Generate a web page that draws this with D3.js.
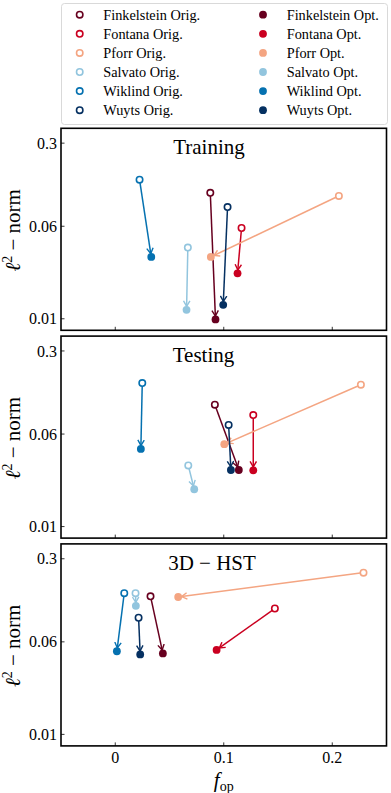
<!DOCTYPE html>
<html>
<head>
<meta charset="utf-8">
<script src="https://cdn.jsdelivr.net/npm/d3@7"></script>
<style>
  body { margin: 0; background: #fff; }
  svg { display: block; font-family: "Liberation Serif", serif; }
</style>
</head>
<body>
<div id="chart"></div>
<script>
// model names and colours (legend order)
const models = ["Finkelstein", "Fontana", "Pforr", "Salvato", "Wiklind", "Wuyts"];
const colors = ["#67001f", "#ca0020", "#f4a582", "#92c5de", "#0571b0", "#053061"];

// Training
const trainFOrig = [0.0876, 0.1164, 0.2061, 0.0669, 0.0224, 0.1035];
const trainL2Orig = [0.1146, 0.058, 0.108, 0.0397, 0.148, 0.087];
const trainFOpt = [0.0924, 0.1127, 0.0881, 0.0657, 0.0332, 0.0995];
const trainL2Opt = [0.00987, 0.0241, 0.0331, 0.0119, 0.0331, 0.0131];

// Testing
const testFOrig = [0.0918, 0.1272, 0.2264, 0.0673, 0.0249, 0.1045];
const testL2Orig = [0.106, 0.0867, 0.156, 0.0327, 0.161, 0.0716];
const testFOpt = [0.1139, 0.1272, 0.1005, 0.0728, 0.0236, 0.1066];
const testL2Opt = [0.0299, 0.0297, 0.0493, 0.0206, 0.045, 0.0299];

// 3D-HST
const hstFOrig = [0.0325, 0.1471, 0.2288, 0.0187, 0.0083, 0.0215];
const hstL2Orig = [0.145, 0.1145, 0.229, 0.154, 0.154, 0.0957];
const hstFOpt = [0.0439, 0.0934, 0.058, 0.019, 0.0015, 0.023];
const hstL2Opt = [0.048, 0.0513, 0.143, 0.1206, 0.05, 0.047];

const panelTitles = ["Training", "Testing", "3D \u2212 HST"];
const xTicks = [0, 0.1, 0.2];
const xTickLabels = ["0", "0.1", "0.2"];
const yTicks = [0.01, 0.06, 0.3];
const yTickLabels = ["0.01", "0.06", "0.3"];

const panels = [
  {fo: trainFOrig, lo: trainL2Orig, fp: trainFOpt, lp: trainL2Opt},
  {fo: testFOrig, lo: testL2Orig, fp: testFOpt, lp: testL2Opt},
  {fo: hstFOrig, lo: hstL2Orig, fp: hstFOpt, lp: hstL2Opt}
];

const width = 391, height = 793;
const left = 61, right = 386.5;
const top0 = 128.3, panelH = 202, gap = 5.8;
const rOpen = 3.2, rFill = 3.9;
const titleX = [209, 203.5, 212];

const svg = d3.create("svg")
    .attr("width", width)
    .attr("height", height)
    .attr("viewBox", [0, 0, width, height]);

const x = d3.scaleLinear().domain([-0.05, 0.25]).range([left, right]);

// legend
const legend = svg.append("g");
legend.append("rect")
    .attr("x", 61.5).attr("y", 3.5)
    .attr("width", 326).attr("height", 121)
    .attr("rx", 3)
    .attr("fill", "#fff")
    .attr("stroke", "#d9d9d9")
    .attr("stroke-width", 1);

const rowY = i => 14.7 + i * 19.1;
models.forEach((m, i) => {
  legend.append("circle")
      .attr("cx", 79.7).attr("cy", rowY(i)).attr("r", rOpen)
      .attr("fill", "none").attr("stroke", colors[i]).attr("stroke-width", 1.6);
  legend.append("text")
      .attr("x", 103.3).attr("y", rowY(i)).attr("dy", "0.35em")
      .attr("font-size", 14.3).text(m + " Orig.");
  legend.append("circle")
      .attr("cx", 263).attr("cy", rowY(i)).attr("r", rFill)
      .attr("fill", colors[i]);
  legend.append("text")
      .attr("x", 286.7).attr("y", rowY(i)).attr("dy", "0.35em")
      .attr("font-size", 14.3).text(m + " Opt.");
});

panels.forEach((p, k) => {
  const y0 = top0 + k * (panelH + gap);
  const y = d3.scaleLog().domain([0.008, 0.4]).range([y0 + panelH, y0]);
  const g = svg.append("g");

  // inward ticks
  g.selectAll(".xt").data(xTicks).join("line")
      .attr("x1", d => x(d)).attr("x2", d => x(d))
      .attr("y1", y0 + panelH).attr("y2", y0 + panelH - 3.5)
      .attr("stroke", "#000").attr("stroke-width", 0.8);
  g.selectAll(".yt").data(yTicks).join("line")
      .attr("x1", left).attr("x2", left + 3.5)
      .attr("y1", d => y(d)).attr("y2", d => y(d))
      .attr("stroke", "#000").attr("stroke-width", 0.8);

  g.selectAll(".yl").data(yTicks).join("text")
      .attr("x", left - 4).attr("y", d => y(d)).attr("dy", "0.35em")
      .attr("text-anchor", "end").attr("font-size", 16)
      .text((d, i) => yTickLabels[i]);

  // y axis label
  const ylab = g.append("text")
      .attr("transform", `translate(20,${y0 + panelH / 2 + 1}) rotate(-90)`)
      .attr("text-anchor", "middle").attr("font-size", 21);
  ylab.append("tspan").attr("font-style", "italic").text("\u2113");
  ylab.append("tspan").attr("font-size", 14).attr("dy", -8).text("2");
  ylab.append("tspan").attr("dy", 8).text(" \u2212 norm");

  // title
  g.append("text")
      .attr("x", titleX[k]).attr("y", y0 + 26)
      .attr("text-anchor", "middle").attr("font-size", 21)
      .text(panelTitles[k]);

  // arrowhead marker per colour
  const defs = g.append("defs");
  colors.forEach((c, i) => {
    defs.append("marker")
        .attr("id", `ah${k}-${i}`)
        .attr("viewBox", "-6 -4 7 8")
        .attr("markerUnits", "userSpaceOnUse")
        .attr("markerWidth", 7).attr("markerHeight", 8)
        .attr("refX", 0).attr("refY", 0)
        .attr("orient", "auto")
      .append("path")
        .attr("d", "M-5.5,-3.2L0,0L-5.5,3.2")
        .attr("fill", "none").attr("stroke", c).attr("stroke-width", 1.4);
  });

  const idx = d3.range(models.length);

  // arrows from original to optimised
  g.selectAll(".arr").data(idx).join("line")
      .each(function(i) {
        const ax = x(p.fo[i]), ay = y(p.lo[i]);
        const bx = x(p.fp[i]), by = y(p.lp[i]);
        const len = Math.hypot(bx - ax, by - ay);
        const ux = (bx - ax) / len, uy = (by - ay) / len;
        d3.select(this)
            .attr("x1", ax + ux * rOpen).attr("y1", ay + uy * rOpen)
            .attr("x2", bx - ux * (rFill - 0.5)).attr("y2", by - uy * (rFill - 0.5));
      })
      .attr("stroke", i => colors[i]).attr("stroke-width", 1.5)
      .attr("marker-end", i => `url(#ah${k}-${i})`);

  g.selectAll(".po").data(idx).join("circle")
      .attr("cx", i => x(p.fo[i])).attr("cy", i => y(p.lo[i])).attr("r", rOpen)
      .attr("fill", "none").attr("stroke", i => colors[i]).attr("stroke-width", 1.6);
  g.selectAll(".pf").data(idx).join("circle")
      .attr("cx", i => x(p.fp[i])).attr("cy", i => y(p.lp[i])).attr("r", rFill)
      .attr("fill", i => colors[i]);

  // frame
  g.append("rect")
      .attr("x", left).attr("y", y0)
      .attr("width", right - left).attr("height", panelH)
      .attr("fill", "none").attr("stroke", "#000").attr("stroke-width", 1.6);

  if (k === panels.length - 1) {
    g.selectAll(".xl").data(xTicks).join("text")
        .attr("x", d => x(d)).attr("y", y0 + panelH + 17.5)
        .attr("text-anchor", "middle").attr("font-size", 16)
        .text((d, i) => xTickLabels[i]);
    const xlab = g.append("text")
        .attr("x", x(0.1)).attr("y", y0 + panelH + 41)
        .attr("text-anchor", "middle").attr("font-size", 21);
    xlab.append("tspan").attr("font-style", "italic").text("f");
    xlab.append("tspan").attr("font-size", 14).attr("dy", 4).text("op");
  }
});

document.getElementById("chart").appendChild(svg.node());
</script>
</body>
</html>
